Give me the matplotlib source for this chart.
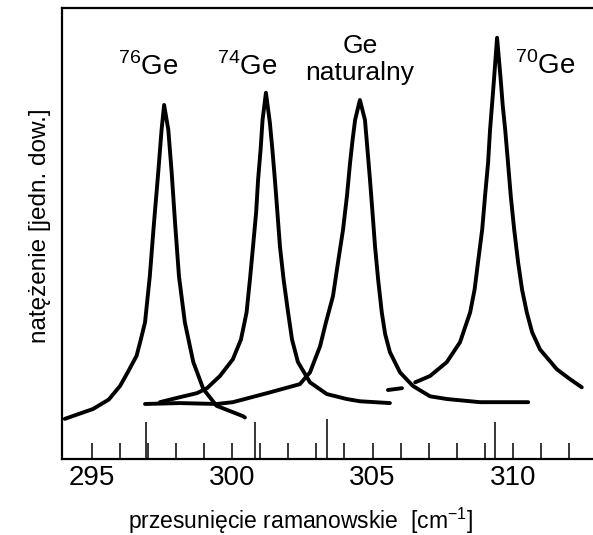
import numpy as np
import matplotlib
matplotlib.use("Agg")
import matplotlib.pyplot as plt
from matplotlib.ticker import FixedLocator

plt.rcParams['font.family'] = ['Liberation Sans', 'DejaVu Sans']
plt.rcParams['mathtext.fontset'] = 'custom'
plt.rcParams['mathtext.rm'] = 'Liberation Sans'

# Raman spectra of germanium isotopes (wavenumber [cm^-1], intensity [arb. units])
ge76_x = [294.03, 295.04, 295.60, 296.00, 296.28, 296.59, 296.74, 296.89, 297.06, 297.21,
          297.36, 297.48, 297.57, 297.72, 297.84, 297.96, 298.10, 298.31, 298.61,
          298.97, 299.44, 299.56, 300.38, 300.45]
ge76_y = [8.9, 11.1, 13.2, 16.2, 19.3, 22.9, 26.5, 30.3, 40.5, 52.4,
          63.5, 73.0, 78.5, 73.0, 63.5, 52.4, 40.5, 30.3, 21.5,
          15.5, 11.8, 11.5, 9.5, 9.2]

ge74_x = [297.42, 298.13, 298.74, 299.10, 299.56, 300.02, 300.31, 300.51, 300.63,
          300.74, 300.85, 300.92, 301.01, 301.08, 301.20, 301.34, 301.43, 301.52,
          301.61, 301.70, 301.83, 301.99, 302.13, 302.34, 302.77, 303.37, 304.08,
          304.55, 305.62]
ge74_y = [12.6, 13.7, 14.6, 15.7, 18.4, 22.1, 26.5, 32.5, 39.8,
          47.1, 54.6, 61.9, 68.6, 75.2, 81.2, 74.6, 68.6, 61.9,
          54.6, 47.1, 39.8, 32.5, 26.5, 21.5, 17.0, 14.4, 13.3,
          12.8, 12.4]

genat_x = [296.89, 298.13, 299.45, 300.02, 301.24, 302.41, 302.77, 303.13, 303.34,
           303.59, 303.77, 303.95, 304.09, 304.20, 304.29, 304.38, 304.55, 304.73,
           304.82, 304.91, 305.00, 305.09, 305.20, 305.33, 305.45, 305.62, 305.98,
           306.44, 307.05, 307.65, 308.83, 310.55]
genat_y = [12.2, 12.4, 12.2, 12.6, 14.6, 16.6, 19.2, 25.0, 30.3,
           36.1, 43.6, 50.9, 58.4, 65.7, 70.8, 75.2, 79.6, 75.2,
           68.6, 61.9, 54.6, 47.1, 39.8, 32.5, 27.7, 23.7, 19.2,
           16.2, 13.9, 13.3, 12.6, 12.6]

ge70_x = [305.55, 306.05, np.nan, 306.52, 307.05, 307.65, 308.12, 308.48, 308.64,
          308.76, 308.91, 309.01, 309.12, 309.19, 309.26, 309.33, 309.44, 309.57,
          309.64, 309.73, 309.83, 309.93, 310.05, 310.19, 310.33, 310.50, 310.69,
          310.97, 311.57, 312.04, 312.46]
ge70_y = [15.3, 15.7, np.nan, 17.0, 18.4, 21.5, 25.9, 32.5, 37.6,
          43.6, 50.9, 58.2, 65.7, 73.0, 78.5, 84.1, 93.4, 84.1,
          78.5, 73.0, 65.7, 58.2, 50.9, 43.6, 37.6, 32.5, 28.1,
          24.3, 19.9, 17.7, 15.9]

# reference line positions marked along the wavenumber axis
mark_x = [296.93, 300.81, 303.38, 309.35]
mark_h = [8.2, 8.2, 8.8, 8.2]

xticks_major = [295, 300, 305, 310]
xticks_minor = list(range(295, 313))

fig = plt.figure(figsize=(5.93, 5.35), dpi=100)
ax = fig.add_axes([62 / 593, 76 / 535, 1 - 62 / 593, 451 / 535])

for xs, ys in [(ge76_x, ge76_y), (ge74_x, ge74_y), (genat_x, genat_y), (ge70_x, ge70_y)]:
    ax.plot(xs, ys, color='black', lw=2.8, solid_joinstyle='round', solid_capstyle='round')

ax.vlines(mark_x, 0, mark_h, color='black', lw=1.1)

ax.set_xlim(293.93, 312.86)
ax.set_ylim(0, 100)
ax.set_yticks([])
ax.xaxis.set_minor_locator(FixedLocator(xticks_minor))
ax.set_xticks(xticks_major)
ax.set_xticklabels([str(v) for v in xticks_major])
ax.tick_params(axis='x', which='both', direction='in', length=11.5, width=1.1,
               labelsize=20, pad=4, color='black')

ax.spines['right'].set_visible(False)
for s in ['left', 'top', 'bottom']:
    ax.spines[s].set_linewidth(1.6)

ax.set_xlabel('przesunięcie ramanowskie  [cm$^{-1}$]', fontsize=16.5)
ax.xaxis.set_label_coords((300 - 62) / 531, -(530 - 460) / 451)
ax.xaxis.label.set_va('baseline')
fig.text(40 / 593, 1 - 226 / 535, 'natężenie [jedn. dow.]', rotation=90,
         fontsize=17.5, ha='center', va='center')

lbl_kw = dict(fontsize=20, ha='center', va='baseline')
ax.text(296.99, 85.2, '$^{76}$Ge', **lbl_kw)
ax.text(300.52, 85.2, '$^{74}$Ge', **lbl_kw)
ax.text(311.15, 85.4, '$^{70}$Ge', **lbl_kw)
ax.text(304.55, 90.0, 'Ge', fontsize=19, ha='center', va='baseline')
ax.text(304.55, 84.1, 'naturalny', fontsize=19, ha='center', va='baseline')

fig.savefig('out.png', dpi=100)
